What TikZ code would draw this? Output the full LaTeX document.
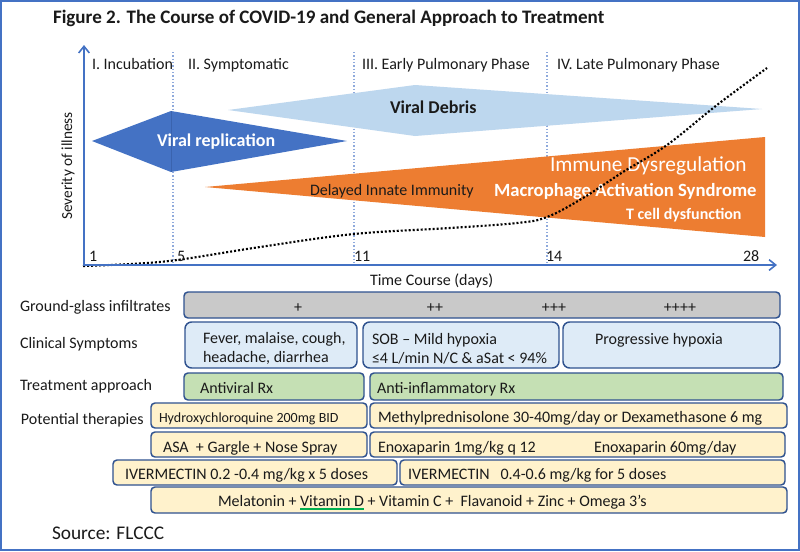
\documentclass[tikz,border=0pt]{standalone}
\usepackage{fontspec}
\setmainfont{Carlito}
\usetikzlibrary{arrows.meta}
\definecolor{axisblue}{HTML}{4472C4}
\definecolor{kiteblue}{HTML}{4472C4}
\definecolor{kiteseam}{HTML}{3A63AE}
\definecolor{debris}{HTML}{BDD7EE}
\definecolor{orng}{HTML}{ED7D31}
\definecolor{boxline}{HTML}{2F528F}
\definecolor{ggray}{HTML}{C9C9C9}
\definecolor{sympblue}{HTML}{DEEBF7}
\definecolor{txgreen}{HTML}{C5E0B4}
\definecolor{therayel}{HTML}{FFF2CC}
\definecolor{phaseline}{HTML}{8FAADC}
\definecolor{txt}{HTML}{1A1A1A}
\definecolor{ulgreen}{HTML}{00B050}
\newcommand\fsz[1]{\fontsize{#1}{#1}\selectfont}
\newcommand\vitd{\setbox0\hbox{Vitamin D}\rlap{\color{ulgreen}\rule[-2.8pt]{\wd0}{1.3pt}}\box0}
\begin{document}
\begin{tikzpicture}[x=0.75pt,y=-0.75pt,
  every node/.style={inner sep=0pt,outer sep=0pt,text=txt},
  tshift/.style={yshift=-2.2pt},
  lbl/.style={anchor=mid west,font=\fsz{12pt},tshift},
  wlbl/.style={anchor=mid west,text=white,tshift},
  bx/.style 2 args={minimum width=#1*0.75pt,minimum height=#2*0.75pt},
  boxst/.style={draw=boxline,line width=1.1pt,rounded corners=3pt},
  bigbox/.style={draw=boxline,line width=1.1pt,rounded corners=5pt},
  phase/.style={draw=phaseline,line width=0.8pt,dash pattern=on 1pt off 1.5pt},
  axis/.style={draw=axisblue,line width=1.5pt,-{Straight Barb[length=5pt,width=8pt,line width=1.2pt]}},
  curve/.style={draw=black,line width=1.6pt,dash pattern=on 1.5pt off 1.5pt}
]
\useasboundingbox (0,0) rectangle (800,551);
\fill[white] (0,0) rectangle (800,551);
\draw[axisblue,line width=1.2pt] (1,1) rectangle (799,550);

% title
\node[anchor=mid west,font=\bfseries\fsz{14.3pt},tshift] (title) at (53,17) {Figure 2. The Course of COVID-19 and General Approach to Treatment};

% phase separators
\coordinate (s5top) at (173,52);  \coordinate (s5bot) at (173,265);
\coordinate (s11top) at (354,52); \coordinate (s11bot) at (354,265);
\coordinate (s14top) at (547,52); \coordinate (s14bot) at (547,265);
\draw[phase] (s5top) -- (s5bot);
\draw[phase] (s11top) -- (s11bot);
\draw[phase] (s14top) -- (s14bot);

% phase labels
\node[lbl] (ph1) at (92,63) {I. Incubation};
\node[lbl] (ph2) at (188,63) {II. Symptomatic};
\node[lbl] (ph3) at (362,63) {III. Early Pulmonary Phase};
\node[lbl] (ph4) at (557,63) {IV. Late Pulmonary Phase};

% shapes
\fill[debris] (228,110) -- (415,85) -- (762,109) -- (415,136) -- cycle;
\fill[kiteblue] (92,141) -- (171,111) -- (347,141) -- (171,172) -- cycle;
\draw[kiteseam,line width=0.5pt] (171,111) -- (171,172);
\fill[orng] (205,187) -- (765,137) -- (765,237) -- cycle;

% shape texts
\node[wlbl,font=\bfseries\fsz{13.5pt}] (vr) at (157,140) {Viral replication};
\node[anchor=mid west,font=\bfseries\fsz{13.5pt},tshift] (vd) at (390,107) {Viral Debris};
\node[lbl] (dii) at (310,189) {Delayed Innate Immunity};
\node[wlbl,font=\fsz{16pt}] (imd) at (550,165) {Immune Dysregulation};
\node[wlbl,font=\bfseries\fsz{14pt}] (mas) at (494,190) {Macrophage Activation Syndrome};
\node[wlbl,font=\bfseries\fsz{12pt}] (tcd) at (626,213) {T cell dysfunction};

% severity curve
\draw[curve] plot[smooth,tension=0.6] coordinates {(83,266) (130,264) (177,260) (260,247) (354,234) (450,228) (517,223) (547,217) (583,198) (623,172) (667,145) (717,105) (767,68)};

% axes
\coordinate (O) at (84,266);
\coordinate (ytop) at (84,45);
\coordinate (xleft) at (83,265);
\coordinate (xend) at (777,265);
\draw[axis] (O) -- (ytop);
\draw[axis] (xleft) -- (xend);

% ticks
\node[lbl] (t1) at (89,255) {1};
\node[lbl] (t5) at (177,255) {5};
\node[lbl] (t11) at (354,255) {11};
\node[lbl] (t14) at (546,255) {14};
\node[lbl] (t28) at (743,255) {28};
\node[lbl] (tc) at (370,279) {Time Course (days)};
\node[rotate=90,font=\fsz{11.5pt}] (sev) at (68,166) {Severity of illness};

% row labels
\node[lbl] (rl1) at (20,305) {Ground-glass infiltrates};
\node[lbl] (rl2) at (20,342) {Clinical Symptoms};
\node[lbl] (rl3) at (20,384) {Treatment approach};
\node[lbl] (rl4) at (21,418) {Potential therapies};

% ground-glass
\node[bx={596}{26},boxst,fill=ggray] (ggo) at (482,305) {};
\node[font=\fsz{12pt},tshift] (g1) at (298,305) {+};
\node[font=\fsz{12pt},tshift] (g2) at (435,305) {++};
\node[font=\fsz{12pt},tshift] (g3) at (554,305) {+++};
\node[font=\fsz{12pt},tshift] (g4) at (680,305) {++++};

% clinical symptoms
\node[bx={172}{46},bigbox,fill=sympblue] (cs1) at (271,345) {};
\node[bx={196}{46},bigbox,fill=sympblue] (cs2) at (461,345) {};
\node[bx={217}{46},bigbox,fill=sympblue] (cs3) at (671.5,345) {};
\node[anchor=west,align=left,font=\fontsize{12pt}{14.5pt}\selectfont] (cs1t) at (203,348.5) {Fever, malaise, cough,\\headache, diarrhea};
\node[anchor=west,align=left,font=\fontsize{12pt}{14.5pt}\selectfont] (cs2t) at (372,348.5) {SOB -- Mild hypoxia\\≤4 L/min N/C \& aSat < 94\%};
\node[lbl] (cs3t) at (595,338) {Progressive hypoxia};

% treatment approach
\node[bx={180}{27},boxst,fill=txgreen] (ta1) at (274,386.5) {};
\node[bx={413}{27},boxst,fill=txgreen] (ta2) at (576.5,386.5) {};
\node[lbl] (ta1t) at (200,387) {Antiviral Rx};
\node[lbl] (ta2t) at (377,387) {Anti-inflammatory Rx};

% potential therapies
\node[bx={216}{25},boxst,fill=therayel] (pA) at (259,415.5) {};
\node[bx={417}{25},boxst,fill=therayel] (pB) at (578.5,415.5) {};
\node[bx={216}{25},boxst,fill=therayel] (pC) at (259,444.5) {};
\node[bx={415}{25},boxst,fill=therayel] (pD) at (577.5,444.5) {};
\node[bx={284}{25},boxst,fill=therayel] (pE) at (255,472.5) {};
\node[bx={385}{25},boxst,fill=therayel] (pF) at (592.5,472.5) {};
\node[bx={636}{26},boxst,fill=therayel] (pG) at (469,500) {};

\node[anchor=mid west,font=\fsz{10.5pt},tshift] (pAt) at (159,416) {Hydroxychloroquine 200mg BID};
\node[lbl] (pBt) at (378,416) {Methylprednisolone 30-40mg/day or Dexamethasone 6 mg};
\node[lbl] (pCt) at (163,446) {ASA\ \ + Gargle + Nose Spray};
\node[lbl] (pDt1) at (378,446) {Enoxaparin 1mg/kg q 12};
\node[lbl] (pDt2) at (594,446) {Enoxaparin 60mg/day};
\node[lbl] (pEt) at (125,473) {IVERMECTIN 0.2 -0.4 mg/kg x 5 doses};
\node[lbl] (pFt) at (408,473) {IVERMECTIN\ \ \ 0.4-0.6 mg/kg for 5 doses};
\node[lbl] (pGt) at (218,500) {Melatonin + \vitd{} + Vitamin C +\ \ Flavanoid + Zinc + Omega 3’s};

% source
\node[anchor=mid west,font=\fsz{14.5pt},tshift] (src) at (52,533) {Source: FLCCC};
\end{tikzpicture}
\end{document}
